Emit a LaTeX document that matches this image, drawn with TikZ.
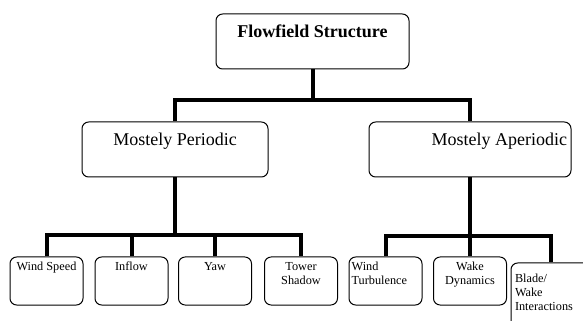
\documentclass[tikz,border=0pt]{standalone}
\usepackage{fontspec}
\setmainfont{Liberation Serif}

\tikzset{every picture/.style={line width=0.75pt}}
\tikzset{
	box/.style={draw, rounded corners=5pt, inner sep=0pt, minimum height=41.25pt},
	leaf/.style={draw, rounded corners=5pt, inner sep=0pt, minimum width=54.75pt, minimum height=36pt},
	branch/.style={line width=3pt},
	bigtext/.style={font=\fontsize{13.5}{16}\selectfont, inner sep=0pt},
	smalltext/.style={font=\fontsize{9.2}{10.5}\selectfont, inner sep=0pt, align=center},
	lefttext/.style={font=\fontsize{9.2}{10.5}\selectfont, inner sep=0pt, align=left},
}

\begin{document}
\begin{tikzpicture}[x=0.75pt,y=0.75pt,yscale=-1,xscale=1]
	\clip (0,0) rectangle (583,321); %set diagram to 583 x 321

	%Shape: Rounded Rect [id:top] 
	\node [box, minimum width=144.75pt] (flow) at (312.5,41.5) {};
	%Shape: Rounded Rect [id:periodic] 
	\node [box, minimum width=139.5pt] (periodic) at (175,149.5) {};
	%Shape: Rounded Rect [id:aperiodic] 
	\node [box, minimum width=151.5pt] (aperiodic) at (470,149.5) {};
	%Shape: Rounded Rect [id:leaves] 
	\node [leaf] (speed) at (46.5,281) {};
	\node [leaf] (inflow) at (131.5,281) {};
	\node [leaf] (yaw) at (215,281) {};
	\node [leaf] (shadow) at (301,281) {};
	\node [leaf] (turb) at (385.5,281) {};
	\node [leaf] (dyn) at (470,281) {};
	\node [leaf, minimum width=60pt, minimum height=52.5pt] (blade) at (551,298) {};

	%Straight Lines [id:bus top] 
	\coordinate (busA) at (312.5,100);
	\draw [branch] (flow.south) -- (busA) ;
	\draw [branch] (periodic.north) |- (busA) -| (aperiodic.north) ;
	%Straight Lines [id:bus periodic] 
	\coordinate (busB) at (175,235);
	\draw [branch] (periodic.south) -- (busB) ;
	\draw [branch] (speed.north) |- (busB) -| (shadow.north) ;
	\draw [branch] (inflow.north) -- (inflow.north |- busB) ;
	\draw [branch] (yaw.north) -- (yaw.north |- busB) ;
	%Straight Lines [id:bus aperiodic] 
	\coordinate (busC) at (470,236);
	\draw [branch] (aperiodic.south) -- (dyn.north) ;
	\draw [branch] (turb.north) |- (busC) -| (blade.north) ;

	% Text Node
	\node [bigtext, anchor=north, font=\fontsize{13.5}{16}\selectfont\bfseries] (flowtext) at ([yshift=8]flow.north) {Flowfield Structure};
	% Text Node
	\node [bigtext, anchor=north] (periodictext) at ([yshift=8]periodic.north) {Mostely Periodic};
	% Text Node
	\node [bigtext, anchor=north east] (aperiodictext) at ([xshift=-3,yshift=8]aperiodic.north east) {Mostely Aperiodic};
	% Text Node
	\node [smalltext, anchor=north] (speedtext) at ([yshift=4]speed.north) {Wind Speed};
	% Text Node
	\node [smalltext, anchor=north] (inflowtext) at ([yshift=4]inflow.north) {Inflow};
	% Text Node
	\node [smalltext, anchor=north] (yawtext) at ([yshift=4]yaw.north) {Yaw};
	% Text Node
	\node [smalltext, anchor=north] (shadowtext) at ([yshift=4]shadow.north) {Tower\\Shadow};
	% Text Node
	\node [lefttext, anchor=north west] (turbtext) at ([xshift=2,yshift=4]turb.north west) {Wind\\Turbulence};
	% Text Node
	\node [smalltext, anchor=north] (dyntext) at ([yshift=4]dyn.north) {Wake\\Dynamics};
	% Text Node
	\node [lefttext, anchor=north west] (bladetext) at ([xshift=3,yshift=8]blade.north west) {Blade/\\Wake\\Interactions};

\end{tikzpicture}
\end{document}
